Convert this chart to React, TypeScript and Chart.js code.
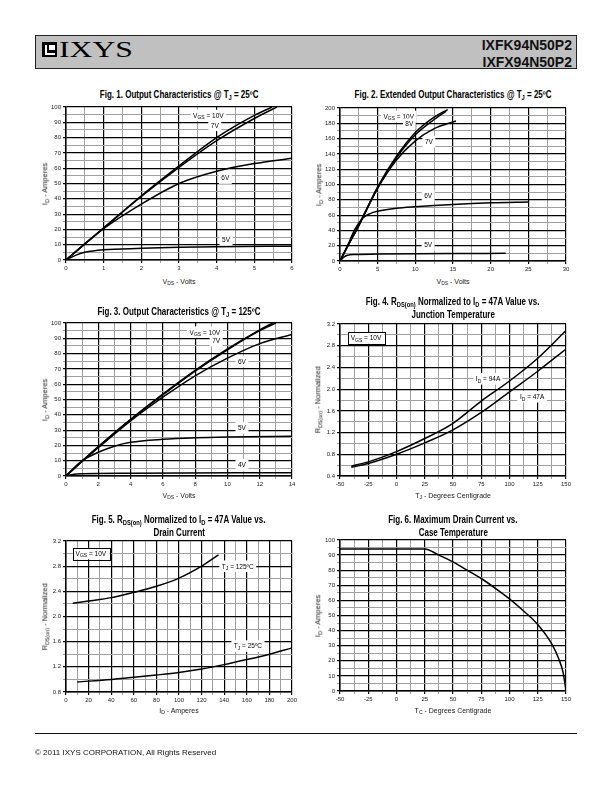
import React, { useEffect, useRef } from 'react';
import { Chart, registerables } from 'chart.js';
Chart.register(...registerables);

type Pt = [number, number];

// ---------------- Fig. 1 : Output characteristics @ 25C ----------------
const fig1XTicks = [0, 1, 2, 3, 4, 5, 6];
const fig1XLabels = ['0', '1', '2', '3', '4', '5', '6'];
const fig1YTicks = [0, 10, 20, 30, 40, 50, 60, 70, 80, 90, 100];
const fig1YLabels = ['0', '10', '20', '30', '40', '50', '60', '70', '80', '90', '100'];
const fig1Vgs10: Pt[] = [[0, 0], [0.5, 10.5], [1, 21], [2, 42], [3, 61.5], [4, 80], [5, 94.5], [5.47, 100]];
const fig1Vgs7: Pt[] = [[0, 0], [0.5, 10.5], [1, 20.8], [2, 41.5], [3, 60.5], [4, 78], [5, 92.5], [5.6, 100]];
const fig1Vgs6: Pt[] = [[0, 0], [0.5, 10.5], [1, 20.5], [2, 36.5], [3, 50], [4, 58], [5, 63], [6, 66.5]];
const fig1Vgs5: Pt[] = [[0, 0], [0.25, 3], [0.5, 5], [1, 6.7], [2, 7.6], [3, 8.3], [4, 8.7], [6, 9]];

// ---------------- Fig. 2 : Extended output characteristics @ 25C ----------------
const fig2XTicks = [0, 5, 10, 15, 20, 25, 30];
const fig2XLabels = ['0', '5', '10', '15', '20', '25', '30'];
const fig2YTicks = [0, 20, 40, 60, 80, 100, 120, 140, 160, 180, 200];
const fig2YLabels = ['0', '20', '40', '60', '80', '100', '120', '140', '160', '180', '200'];
const fig2Vgs10: Pt[] = [[0, 0], [1, 19], [2.5, 47], [5, 97], [7.5, 137], [10, 168], [12.5, 188], [14.3, 198]];
const fig2Vgs8: Pt[] = [[0, 0], [1, 19], [2.5, 47], [5, 96], [7.5, 135], [10, 165], [12.5, 185], [14.1, 196]];
const fig2Vgs7: Pt[] = [[0, 0], [1, 19], [2.5, 46], [5, 95], [7.5, 132], [10, 157], [12.5, 173], [15.4, 183]];
const fig2Vgs6: Pt[] = [[0, 0], [1, 20], [2, 42], [3, 56], [4, 62], [5, 65], [7.5, 69], [10, 71], [15, 74], [20, 76], [25, 77]];
const fig2Vgs5: Pt[] = [[0, 0], [0.5, 5], [1, 7.5], [2, 8.5], [5, 9], [10, 9.5], [15, 9.8], [22, 10]];

// ---------------- Fig. 3 : Output characteristics @ 125C ----------------
const fig3XTicks = [0, 2, 4, 6, 8, 10, 12, 14];
const fig3XLabels = ['0', '2', '4', '6', '8', '10', '12', '14'];
const fig3YTicks = [0, 10, 20, 30, 40, 50, 60, 70, 80, 90, 100];
const fig3YLabels = ['0', '10', '20', '30', '40', '50', '60', '70', '80', '90', '100'];
const fig3Vgs10: Pt[] = [[0, 0], [1, 9.8], [2, 19.2], [4, 37], [6, 53.5], [8, 69], [10, 83], [12, 95.5], [12.8, 100]];
const fig3Vgs7: Pt[] = [[0, 0], [1, 9.7], [2, 19], [4, 36.8], [6, 53], [8, 68.5], [10, 82.5], [12, 95], [13, 100]];
const fig3Vgs6: Pt[] = [[0, 0], [1, 9.5], [2, 18.5], [4, 36], [6, 51.5], [8, 65.5], [10, 77], [12, 86.5], [14, 92.5]];
const fig3Vgs5: Pt[] = [[0, 0], [1, 10], [2, 15.5], [3, 19.5], [4, 22], [6, 24], [8, 25], [10, 25.5], [14, 26]];
const fig3Vgs4: Pt[] = [[0, 0], [0.5, 1.2], [1, 1.5], [4, 1.8], [14, 2.2]];

// ---------------- Fig. 4 : RDS(on) vs junction temperature ----------------
const fig4XTicks = [-50, -25, 0, 25, 50, 75, 100, 125, 150];
const fig4XLabels = ['-50', '-25', '0', '25', '50', '75', '100', '125', '150'];
const fig4YTicks = [0.4, 0.8, 1.2, 1.6, 2.0, 2.4, 2.8, 3.2];
const fig4YLabels = ['0.4', '0.8', '1.2', '1.6', '2.0', '2.4', '2.8', '3.2'];
const fig4Id94: Pt[] = [[-40, 0.58], [-25, 0.66], [0, 0.85], [25, 1.09], [50, 1.37], [75, 1.78], [100, 2.15], [125, 2.57], [150, 3.08]];
const fig4Id47: Pt[] = [[-40, 0.56], [-25, 0.63], [0, 0.8], [25, 1.01], [50, 1.25], [75, 1.57], [100, 1.95], [125, 2.33], [150, 2.74]];

// ---------------- Fig. 5 : RDS(on) vs drain current ----------------
const fig5XTicks = [0, 20, 40, 60, 80, 100, 120, 140, 160, 180, 200];
const fig5XLabels = ['0', '20', '40', '60', '80', '100', '120', '140', '160', '180', '200'];
const fig5YTicks = [0.8, 1.2, 1.6, 2.0, 2.4, 2.8, 3.2];
const fig5YLabels = ['0.8', '1.2', '1.6', '2.0', '2.4', '2.8', '3.2'];
const fig5Tj125: Pt[] = [[6, 2.21], [20, 2.245], [40, 2.3], [60, 2.385], [80, 2.48], [100, 2.61], [120, 2.8], [135, 2.98]];
const fig5Tj25: Pt[] = [[10, 0.96], [40, 1.0], [60, 1.035], [80, 1.07], [100, 1.11], [120, 1.165], [140, 1.235], [160, 1.315], [180, 1.4], [200, 1.5]];

// ---------------- Fig. 6 : Max drain current vs case temperature ----------------
const fig6XTicks = [-50, -25, 0, 25, 50, 75, 100, 125, 150];
const fig6XLabels = ['-50', '-25', '0', '25', '50', '75', '100', '125', '150'];
const fig6YTicks = [0, 10, 20, 30, 40, 50, 60, 70, 80, 90, 100];
const fig6YLabels = ['0', '10', '20', '30', '40', '50', '60', '70', '80', '90', '100'];
const fig6Id: Pt[] = [[-50, 94], [25, 94], [37.5, 90], [50, 85.5], [62.5, 80], [75, 74.5], [87.5, 68], [100, 61], [112.5, 53], [125, 44], [137.5, 31], [143.75, 21], [147.5, 12], [150, 0]];

const SANS = '"Liberation Sans", Arial, Helvetica, sans-serif';
const SERIF = '"Liberation Serif", "Times New Roman", serif';

type Seg = { t: string; sub?: boolean };
const S = (t: string): Seg => ({ t });
const U = (t: string): Seg => ({ t, sub: true });
type Note = { x: number; y: number; segs: Seg[]; boxed?: boolean };

const VGS10 = [S('V'), U('GS'), S(' = 10V')];

function withMinors(major: number[]): number[] {
  const out: number[] = [];
  for (let i = 0; i < major.length; i++) {
    out.push(major[i]);
    if (i < major.length - 1) out.push((major[i] + major[i + 1]) / 2);
  }
  return out;
}

function notesPlugin(notes: Note[]) {
  return {
    id: 'notes',
    beforeDatasetsDraw(chart: any) {
      const ctx = chart.ctx as CanvasRenderingContext2D;
      const xs = chart.scales.x;
      const ys = chart.scales.y;
      const fs = 6.5;
      const sfs = 5;
      for (const n of notes) {
        const cx = xs.getPixelForValue(n.x);
        const cy = ys.getPixelForValue(n.y);
        let w = 0;
        const widths = n.segs.map((s) => {
          ctx.font = `${s.sub ? sfs : fs}px ${SANS}`;
          const m = ctx.measureText(s.t).width;
          w += m;
          return m;
        });
        const padX = n.boxed ? 3 : 2.5;
        const h = fs + 2;
        const padY = 1.5;
        ctx.save();
        ctx.fillStyle = '#fff';
        const bx = cx - w / 2 - padX;
        const by = cy - h / 2 - padY;
        ctx.fillRect(bx, by, w + 2 * padX, h + 2 * padY);
        if (n.boxed) {
          ctx.strokeStyle = '#000';
          ctx.lineWidth = 1;
          ctx.strokeRect(Math.round(bx) + 0.5, Math.round(by) + 0.5, Math.round(w + 2 * padX), Math.round(h + 2 * padY));
        }
        ctx.fillStyle = '#000';
        ctx.textAlign = 'left';
        ctx.textBaseline = 'alphabetic';
        let x = cx - w / 2;
        const base = cy + fs * 0.36;
        n.segs.forEach((s, i) => {
          ctx.font = `${s.sub ? sfs : fs}px ${SANS}`;
          ctx.fillText(s.t, x, s.sub ? base + 1.5 : base);
          x += widths[i];
        });
        ctx.restore();
      }
    },
  };
}

type FigProps = {
  rect: [number, number, number, number];
  xTicks: number[];
  xLabels: string[];
  yTicks: number[];
  yLabels: string[];
  series: Pt[][];
  notes: Note[];
};

const PAD_L = 30;
const PAD_T = 6;
const PAD_R = 10;
const PAD_B = 16;

function Fig({ rect, xTicks, xLabels, yTicks, yLabels, series, notes }: FigProps) {
  const ref = useRef<HTMLCanvasElement>(null);
  const [l, t, r, b] = rect;
  const W = r - l + PAD_L + PAD_R;
  const H = b - t + PAD_T + PAD_B;
  useEffect(() => {
    if (!ref.current) return;
    const findMajor = (arr: number[], v: number) => arr.findIndex((m) => Math.abs(m - v) < 1e-9);
    const axis = (major: number[], labels: string[], fit: (s: any) => void) => {
      const all = withMinors(major);
      return {
        type: 'linear' as const,
        min: major[0],
        max: major[major.length - 1],
        afterBuildTicks: (s: any) => {
          s.ticks = all.map((v) => ({ value: v }));
        },
        afterFit: fit,
        grid: {
          color: (c: any) => (c.tick && findMajor(major, c.tick.value) >= 0 ? '#000' : '#a0a0a0'),
          lineWidth: (c: any) => (c.tick && findMajor(major, c.tick.value) >= 0 ? 1.2 : 1),
          tickLength: 3,
          drawTicks: true,
        },
        border: { color: '#000', width: 1.5 },
        ticks: {
          autoSkip: false,
          maxRotation: 0,
          minRotation: 0,
          padding: 2,
          color: '#222',
          font: { family: SANS, size: 6 },
          callback: (v: any) => {
            const i = findMajor(major, Number(v));
            return i >= 0 ? labels[i] : '';
          },
        },
      };
    };
    const chart = new Chart(ref.current, {
      type: 'scatter',
      data: {
        datasets: series.map((s) => ({
          data: s.map(([x, y]) => ({ x, y })),
          showLine: true,
          borderColor: '#000',
          borderWidth: 1.5,
          pointRadius: 0,
          fill: false,
          cubicInterpolationMode: 'monotone' as const,
        })),
      },
      options: {
        responsive: false,
        animation: false,
        devicePixelRatio: 1,
        layout: { padding: { left: 0, top: PAD_T, right: PAD_R, bottom: 0 } },
        plugins: { legend: { display: false }, tooltip: { enabled: false }, title: { display: false } },
        scales: {
          x: axis(xTicks, xLabels, (s: any) => { s.height = PAD_B; }),
          y: axis(yTicks, yLabels, (s: any) => { s.width = PAD_L; }),
        },
      },
      plugins: [notesPlugin(notes)],
    } as any);
    return () => chart.destroy();
  }, []);
  return (
    <canvas
      ref={ref}
      width={W}
      height={H}
      style={{ position: 'absolute', left: l - PAD_L, top: t - PAD_T, width: W, height: H }}
    />
  );
}

const Sub = ({ children }: { children: React.ReactNode }) => (
  <span style={{ fontSize: '0.72em', position: 'relative', top: '0.3em' }}>{children}</span>
);

function Label({ x, y, size, bold, sx = 1, rotate, children }: { x: number; y: number; size: number; bold?: boolean; sx?: number; rotate?: boolean; children: React.ReactNode }) {
  return (
    <div
      style={{
        position: 'absolute',
        left: x - 200,
        top: y - size / 2,
        width: 400,
        height: size,
        lineHeight: `${size}px`,
        fontSize: size,
        fontFamily: SANS,
        fontWeight: bold ? 'bold' : 'normal',
        textAlign: 'center',
        whiteSpace: 'nowrap',
        color: bold ? '#000' : '#1a1a1a',
        transform: rotate ? 'rotate(-90deg)' : undefined,
        transformOrigin: 'center center',
      }}
    >
      <span style={{ display: 'inline-block', transform: `scaleX(${sx})`, transformOrigin: 'center' }}>{children}</span>
    </div>
  );
}

const TS = 10; // title size
const TX = 0.8; // title horizontal compression
const AS = 7; // axis title size
const YS = 7.5; // rotated axis title size

export default function App() {
  const r1: [number, number, number, number] = [66, 107, 292, 260];
  const r2: [number, number, number, number] = [340, 108, 566, 261];
  const r3: [number, number, number, number] = [66, 323, 292, 476];
  const r4: [number, number, number, number] = [340, 324, 566, 476];
  const r5: [number, number, number, number] = [66, 541, 292, 692];
  const r6: [number, number, number, number] = [340, 540, 566, 691];
  const cx = (r: number[]) => (r[0] + r[2]) / 2;
  const cy = (r: number[]) => (r[1] + r[3]) / 2;
  const idAmp = <>I<Sub>D</Sub> - Amperes</>;
  const vdsVolts = <>V<Sub>DS</Sub> - Volts</>;
  const rdsNorm = <>R<Sub>DS(on)</Sub> - Normalized</>;
  return (
    <div style={{ position: 'absolute', left: 0, top: 0, width: 612, height: 792, background: '#fff', overflow: 'hidden' }}>
      {/* header */}
      <div style={{ position: 'absolute', left: 35, top: 35, width: 542, height: 34, background: '#c0c0c0', border: '1.5px solid #222', boxSizing: 'border-box' }} />
      <div style={{ position: 'absolute', left: 42, top: 42, width: 15, height: 15, background: '#000' }}>
        <div style={{ position: 'absolute', left: 3, top: 3, width: 8, height: 8, borderLeft: '2px solid #fff', borderBottom: '2px solid #fff' }} />
        <div style={{ position: 'absolute', left: 7, top: 3, width: 6, height: 5, background: '#fff' }} />
      </div>
      <div style={{ position: 'absolute', left: 59, top: 37, height: 24, lineHeight: '24px', fontSize: 24, fontFamily: SERIF, color: '#000', transform: 'scaleX(1.32)', transformOrigin: 'left center', whiteSpace: 'nowrap' }}>IXYS</div>
      <div style={{ position: 'absolute', right: 612 - 572, top: 36.5, lineHeight: '17px', fontSize: 14, fontFamily: SANS, fontWeight: 'bold', textAlign: 'right', color: '#111' }}>
        IXFK94N50P2<br />IXFX94N50P2
      </div>

      {/* Fig 1 */}
      <Label x={cx(r1)} y={95} size={TS} bold sx={TX}>Fig. 1. Output Characteristics @ T<Sub>J</Sub> = 25ºC</Label>
      <Fig rect={r1} xTicks={fig1XTicks} xLabels={fig1XLabels} yTicks={fig1YTicks} yLabels={fig1YLabels}
        series={[fig1Vgs10, fig1Vgs7, fig1Vgs6, fig1Vgs5]}
        notes={[
          { x: 3.78, y: 94.5, segs: VGS10 },
          { x: 3.95, y: 88, segs: [S('7V')] },
          { x: 4.23, y: 53.5, segs: [S('6V')] },
          { x: 4.25, y: 13, segs: [S('5V')] },
        ]} />
      <Label x={cx(r1)} y={r1[3] + 21} size={AS}>{vdsVolts}</Label>
      <Label x={r1[0] - 21} y={cy(r1)} size={YS} rotate>{idAmp}</Label>

      {/* Fig 2 */}
      <Label x={cx(r2)} y={95} size={TS} bold sx={TX}>Fig. 2. Extended Output Characteristics @ T<Sub>J</Sub> = 25ºC</Label>
      <Fig rect={r2} xTicks={fig2XTicks} xLabels={fig2XLabels} yTicks={fig2YTicks} yLabels={fig2YLabels}
        series={[fig2Vgs10, fig2Vgs8, fig2Vgs7, fig2Vgs6, fig2Vgs5]}
        notes={[
          { x: 7.8, y: 189, segs: VGS10 },
          { x: 9.2, y: 179, segs: [S('8V')] },
          { x: 11.8, y: 156, segs: [S('7V')] },
          { x: 11.7, y: 85, segs: [S('6V')] },
          { x: 11.7, y: 21, segs: [S('5V')] },
        ]} />
      <Label x={cx(r2)} y={r2[3] + 20} size={AS}>{vdsVolts}</Label>
      <Label x={r2[0] - 21} y={cy(r2)} size={YS} rotate>{idAmp}</Label>

      {/* Fig 3 */}
      <Label x={cx(r3)} y={312} size={TS} bold sx={TX}>Fig. 3. Output Characteristics @ T<Sub>J</Sub> = 125ºC</Label>
      <Fig rect={r3} xTicks={fig3XTicks} xLabels={fig3XLabels} yTicks={fig3YTicks} yLabels={fig3YLabels}
        series={[fig3Vgs10, fig3Vgs7, fig3Vgs6, fig3Vgs5, fig3Vgs4]}
        notes={[
          { x: 8.6, y: 94, segs: VGS10 },
          { x: 9.3, y: 88.5, segs: [S('7V')] },
          { x: 10.9, y: 75, segs: [S('6V')] },
          { x: 10.9, y: 31.5, segs: [S('5V')] },
          { x: 10.9, y: 7.2, segs: [S('4V')] },
        ]} />
      <Label x={cx(r3)} y={r3[3] + 19} size={AS}>{vdsVolts}</Label>
      <Label x={r3[0] - 21} y={cy(r3)} size={YS} rotate>{idAmp}</Label>

      {/* Fig 4 */}
      <Label x={cx(r4)} y={302} size={TS} bold sx={TX}>Fig. 4. R<Sub>DS(on)</Sub> Normalized to I<Sub>D</Sub> = 47A Value vs.</Label>
      <Label x={cx(r4)} y={315} size={TS} bold sx={TX}>Junction Temperature</Label>
      <Fig rect={r4} xTicks={fig4XTicks} xLabels={fig4XLabels} yTicks={fig4YTicks} yLabels={fig4YLabels}
        series={[fig4Id94, fig4Id47]}
        notes={[
          { x: -27, y: 2.94, segs: VGS10, boxed: true },
          { x: 81, y: 2.19, segs: [S('I'), U('D'), S(' = 94A')] },
          { x: 120, y: 1.86, segs: [S('I'), U('D'), S(' = 47A')] },
        ]} />
      <Label x={cx(r4)} y={r4[3] + 19} size={AS}>T<Sub>J</Sub> - Degrees Centigrade</Label>
      <Label x={r4[0] - 22} y={cy(r4)} size={YS} rotate>{rdsNorm}</Label>

      {/* Fig 5 */}
      <Label x={cx(r5)} y={520} size={TS} bold sx={TX}>Fig. 5. R<Sub>DS(on)</Sub> Normalized to I<Sub>D</Sub> = 47A Value vs.</Label>
      <Label x={cx(r5)} y={533} size={TS} bold sx={TX}>Drain Current</Label>
      <Fig rect={r5} xTicks={fig5XTicks} xLabels={fig5XLabels} yTicks={fig5YTicks} yLabels={fig5YLabels}
        series={[fig5Tj125, fig5Tj25]}
        notes={[
          { x: 22, y: 3.0, segs: VGS10, boxed: true },
          { x: 152, y: 2.8, segs: [S('T'), U('J'), S(' = 125ºC')] },
          { x: 161, y: 1.53, segs: [S('T'), U('J'), S(' = 25ºC')] },
        ]} />
      <Label x={cx(r5)} y={r5[3] + 18} size={AS}>{idAmp}</Label>
      <Label x={r5[0] - 21} y={cy(r5)} size={YS} rotate>{rdsNorm}</Label>

      {/* Fig 6 */}
      <Label x={cx(r6)} y={520} size={TS} bold sx={TX}>Fig. 6. Maximum Drain Current vs.</Label>
      <Label x={cx(r6)} y={533} size={TS} bold sx={TX}>Case Temperature</Label>
      <Fig rect={r6} xTicks={fig6XTicks} xLabels={fig6XLabels} yTicks={fig6YTicks} yLabels={fig6YLabels}
        series={[fig6Id]}
        notes={[]} />
      <Label x={cx(r6)} y={r6[3] + 19} size={AS}>T<Sub>C</Sub> - Degrees Centigrade</Label>
      <Label x={r6[0] - 22} y={cy(r6)} size={YS} rotate>{idAmp}</Label>

      {/* footer */}
      <div style={{ position: 'absolute', left: 35, top: 733, width: 542, height: 1, background: '#111' }} />
      <div style={{ position: 'absolute', left: 35, top: 748, lineHeight: '10px', fontSize: 8, fontFamily: SANS, color: '#111', whiteSpace: 'nowrap' }}>
        © 2011 IXYS CORPORATION, All Rights Reserved
      </div>
    </div>
  );
}
